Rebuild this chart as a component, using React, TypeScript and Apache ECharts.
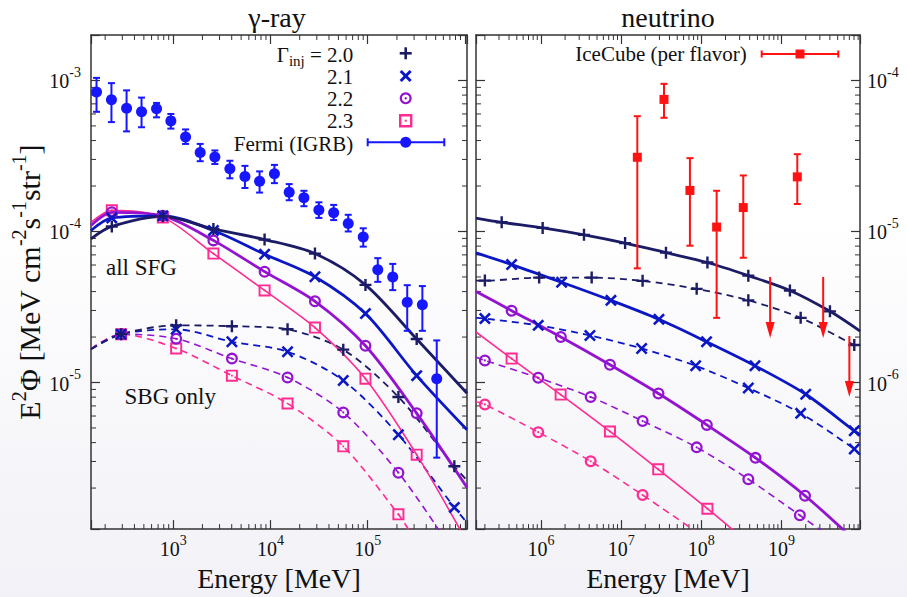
import React, { useEffect, useRef } from 'react';
import * as echarts from 'echarts';

const FONT = '"Liberation Serif", "Times New Roman", Times, serif';
const INK = '#111111';
const NAVY = '#1c1c66';
const BLUE = '#0b17c4';
const PURPLE = '#9313d0';
const PINK = '#ff2a92';
const FERMI = '#1616ff';
const RED = '#ff1212';

// ---- axis ranges ----
const gammaXRange = [143, 1.05e6];
const gammaYRange = [1.07e-6, 2e-3];
const nuXRange = [1.55e5, 9.5e9];
const nuYRange = [1.07e-7, 2e-4];

// ---- tick labels (powers of ten shown) ----
const gammaXLabelExps = [3, 4, 5];
const gammaYLabelExps = [-5, -4, -3];
const nuXLabelExps = [6, 7, 8, 9];
const nuYLabelExps = [-6, -5, -4];

// ---- minor tick decades ----
const gammaXDecades = [2, 3, 4, 5, 6];
const gammaYDecades = [-6, -5, -4, -3];
const nuXDecades = [5, 6, 7, 8, 9];
const nuYDecades = [-7, -6, -5, -4];
const minorMultipliers = [2, 3, 4, 5, 6, 7, 8, 9];

// ---- Fermi IGRB ----
const fermiE = [163, 232, 332, 473, 675, 947, 1342, 1897, 2685, 3830, 5470, 7740, 11000, 15600, 22100, 31500, 44700, 63100, 90000, 127000, 181000, 255000, 365000, 513000];
const fermiY = [8.4e-4, 7.45e-4, 6.55e-4, 6.2e-4, 6.5e-4, 5.4e-4, 4.23e-4, 3.34e-4, 3.11e-4, 2.6e-4, 2.31e-4, 2.15e-4, 2.41e-4, 1.82e-4, 1.67e-4, 1.39e-4, 1.33e-4, 1.13e-4, 9.2e-5, 5.58e-5, 5.0e-5, 3.4e-5, 3.27e-5, 1.06e-5];
const fermiLo = [6.2e-4, 5.3e-4, 4.6e-4, 4.9e-4, 5.7e-4, 4.8e-4, 3.8e-4, 2.92e-4, 2.8e-4, 2.25e-4, 1.94e-4, 1.81e-4, 2.09e-4, 1.61e-4, 1.47e-4, 1.23e-4, 1.19e-4, 1.0e-4, 7.94e-5, 4.64e-5, 4.09e-5, 2.2e-5, 2.2e-5, 3.18e-6];
const fermiHi = [1.04e-3, 9.6e-4, 8.6e-4, 7.7e-4, 7.1e-4, 6.0e-4, 4.74e-4, 3.8e-4, 3.44e-4, 2.94e-4, 2.72e-4, 2.5e-4, 2.76e-4, 2.06e-4, 1.86e-4, 1.56e-4, 1.5e-4, 1.29e-4, 1.05e-4, 6.66e-5, 6.1e-5, 4.41e-5, 4.35e-5, 1.9e-5];

// ---- gamma-ray model curves [E (MeV), E^2 Phi] ----
const gammaSolid20 = [[143, 8.95e-5], [234, 1.08e-4], [783, 1.26e-4], [2593, 1.04e-4], [8710, 8.84e-5], [2.87e4, 7.14e-5], [9.49e4, 4.43e-5], [3.19e5, 1.94e-5], [1.05e6, 8.49e-6]];
const gammaSolid21 = [[143, 1.015e-4], [234, 1.23e-4], [783, 1.27e-4], [2593, 1.015e-4], [8710, 7.07e-5], [2.87e4, 5.02e-5], [9.49e4, 2.86e-5], [3.19e5, 1.11e-5], [1.05e6, 4.86e-6]];
const gammaSolid22 = [[143, 1.094e-4], [234, 1.34e-4], [783, 1.27e-4], [2593, 8.73e-5], [8710, 5.42e-5], [2.87e4, 3.45e-5], [9.49e4, 1.75e-5], [3.19e5, 6.25e-6], [1.05e6, 2.02e-6]];
const gammaSolid23 = [[143, 1.15e-4], [234, 1.38e-4], [783, 1.24e-4], [2593, 7.14e-5], [8710, 4.07e-5], [2.87e4, 2.31e-5], [9.49e4, 1.06e-5], [3.19e5, 3.33e-6], [9.4e5, 1.0e-6]];
const gammaDash20 = [[143, 1.66e-5], [292, 2.09e-5], [1074, 2.39e-5], [4018, 2.36e-5], [1.5e4, 2.25e-5], [5.61e4, 1.65e-5], [2.07e5, 8.02e-6], [7.78e5, 2.79e-6], [1.05e6, 2.25e-6]];
const gammaDash21 = [[143, 1.66e-5], [292, 2.09e-5], [1074, 2.25e-5], [4018, 1.86e-5], [1.5e4, 1.6e-5], [5.61e4, 1.03e-5], [2.07e5, 4.51e-6], [7.78e5, 1.49e-6], [1.05e6, 1.18e-6]];
const gammaDash22 = [[143, 1.67e-5], [292, 2.09e-5], [1074, 1.95e-5], [4018, 1.44e-5], [1.5e4, 1.08e-5], [5.61e4, 6.34e-6], [2.07e5, 2.53e-6], [5.7e5, 1.0e-6]];
const gammaDash23 = [[143, 1.67e-5], [292, 2.09e-5], [1074, 1.68e-5], [4018, 1.11e-5], [1.5e4, 7.26e-6], [5.61e4, 3.78e-6], [2.07e5, 1.34e-6], [2.8e5, 1.0e-6]];

// ---- neutrino model curves ----
const nuSolid20 = [[1.55e5, 1.228e-5], [3.24e5, 1.15e-5], [1.05e6, 1.056e-5], [3.44e6, 9.5e-6], [1.12e7, 8.38e-6], [3.62e7, 7.24e-6], [1.19e8, 6.23e-6], [3.85e8, 5.1e-6], [1.27e9, 4.07e-6], [4.01e9, 2.96e-6], [9.5e9, 2.19e-6]];
const nuSolid21 = [[1.55e5, 7.21e-6], [4.31e5, 6.04e-6], [1.81e6, 4.61e-6], [7.46e6, 3.5e-6], [2.96e7, 2.62e-6], [1.16e8, 1.86e-6], [4.66e8, 1.29e-6], [2.0e9, 8.36e-7], [8.06e9, 4.79e-7], [9.5e9, 4.51e-7]];
const nuSolid22 = [[1.55e5, 4.01e-6], [4.31e5, 2.99e-6], [1.77e6, 2.0e-6], [7.25e6, 1.31e-6], [2.92e7, 8.45e-7], [1.17e8, 5.24e-7], [4.73e8, 3.17e-7], [1.96e9, 1.78e-7], [6.6e9, 1.0e-7]];
const nuSolid23 = [[1.55e5, 2.16e-6], [4.31e5, 1.44e-6], [1.76e6, 8.32e-7], [7.25e6, 4.74e-7], [2.9e7, 2.66e-7], [1.19e8, 1.46e-7], [2.8e8, 1.0e-7]];
const nuDash20 = [[1.55e5, 4.73e-6], [2.0e5, 4.73e-6], [9.5e5, 4.95e-6], [4.29e6, 4.95e-6], [1.85e7, 4.71e-6], [8.74e7, 4.17e-6], [3.85e8, 3.5e-6], [1.73e9, 2.68e-6], [8.06e9, 1.77e-6], [9.5e9, 1.7e-6]];
const nuDash21 = [[1.55e5, 2.68e-6], [2.0e5, 2.65e-6], [9.25e5, 2.39e-6], [4.08e6, 2.05e-6], [1.8e7, 1.68e-6], [8.49e7, 1.29e-6], [3.85e8, 9.19e-7], [1.73e9, 6.25e-7], [8.06e9, 3.63e-7], [9.5e9, 3.33e-7]];
const nuDash22 = [[1.55e5, 1.47e-6], [2.0e5, 1.4e-6], [9.25e5, 1.075e-6], [4.17e6, 8.02e-7], [1.85e7, 5.56e-7], [8.74e7, 3.72e-7], [3.85e8, 2.29e-7], [1.69e9, 1.32e-7], [3.5e9, 1.0e-7]];
const nuDash23 = [[1.55e5, 7.45e-7], [2.0e5, 7.16e-7], [9.25e5, 4.69e-7], [4.17e6, 3.01e-7], [1.85e7, 1.8e-7], [9.3e7, 1.0e-7]];

// ---- IceCube (per flavor) ----
const iceE = [1.59e7, 3.42e7, 7.2e7, 1.55e8, 3.33e8, 1.57e9];
const iceY = [3.1e-5, 7.49e-5, 1.87e-5, 1.07e-5, 1.44e-5, 2.3e-5];
const iceLo = [5.7e-6, 5.66e-5, 8.05e-6, 2.68e-6, 6.7e-6, 1.52e-5];
const iceHi = [5.8e-5, 9.5e-5, 3.06e-5, 1.86e-5, 2.35e-5, 3.25e-5];
const iceUpperE = [7.2e8, 3.3e9, 7.0e9];
const iceUpperY = [5.0e-6, 5.0e-6, 2.03e-6];

// ---- texts ----
const gammaTitle = 'γ-ray';
const nuTitle = 'neutrino';
const xName = 'Energy [MeV]';
const gammaLegend = ['2.0', '2.1', '2.2', '2.3'];
const fermiLabel = 'Fermi (IGRB)';
const iceLabel = 'IceCube (per flavor)';

const PLUS = 'path://M4,0H6V4H10V6H6V10H4V6H0V4H4Z';
const CROSS = 'path://M1.5,0L5,3.5L8.5,0L10,1.5L6.5,5L10,8.5L8.5,10L5,6.5L1.5,10L0,8.5L3.5,5L0,1.5Z';
const RING = 'path://M10,5A5,5,0,1,1,0,5A5,5,0,1,1,10,5ZM8.1,5A3.1,3.1,0,1,0,1.9,5A3.1,3.1,0,1,0,8.1,5ZM5.9,5A0.9,0.9,0,1,1,4.1,5A0.9,0.9,0,1,1,5.9,5Z';
const SQUARE = 'path://M0,0H10V10H0ZM1.6,1.6V8.4H8.4V1.6ZM4.3,4.3H5.7V5.7H4.3Z';

const powLabel = (allowed: number[]) => (v: number) => {
  const e = Math.log10(v);
  const r = Math.round(e);
  if (Math.abs(e - r) > 1e-3 || allowed.indexOf(r) < 0) return '';
  return '{b|10}{s|' + r + '}';
};

const labelRich = {
  b: { fontFamily: FONT, fontSize: 20, color: INK, lineHeight: 22, verticalAlign: 'bottom' },
  s: { fontFamily: FONT, fontSize: 14, color: INK, lineHeight: 14, padding: [0, 0, 12, 0], verticalAlign: 'bottom' },
};

const AX = '#333333';

function xAxisOf(grid: number, range: number[], position: string, labels: number[] | null) {
  return {
    type: 'log', logBase: 10, gridIndex: grid, position, min: range[0], max: range[1],
    axisLine: { show: true, onZero: false, lineStyle: { color: AX, width: 1.5 } },
    axisTick: { show: true, inside: true, length: 9, lineStyle: { color: AX, width: 1.2 } },
    minorTick: { show: false }, splitLine: { show: false },
    axisLabel: { show: !!labels, margin: 8, formatter: powLabel(labels || []), rich: labelRich },
    name: labels ? xName : '', nameLocation: 'middle', nameGap: 29,
    nameTextStyle: { fontFamily: FONT, fontSize: 28, color: INK },
  };
}

function yAxisOf(grid: number, range: number[], position: string, labels: number[] | null, margin: number) {
  return {
    type: 'log', logBase: 10, gridIndex: grid, position, min: range[0], max: range[1],
    axisLine: { show: true, onZero: false, lineStyle: { color: AX, width: 1.5 } },
    axisTick: { show: true, inside: true, length: 9, lineStyle: { color: AX, width: 1.2 } },
    minorTick: { show: false }, splitLine: { show: false },
    axisLabel: { show: !!labels, margin, formatter: powLabel(labels || []), rich: labelRich },
  };
}

function minorValues(decades: number[], range: number[]) {
  const out: number[] = [];
  decades.forEach((d) => minorMultipliers.forEach((m) => {
    const v = m * Math.pow(10, d);
    if (v > range[0] && v < range[1]) out.push(v);
  }));
  return out;
}

function tickSeries(xi: number, yi: number, xDec: number[], yDec: number[], xr: number[], yr: number[]) {
  const data: number[][] = [];
  minorValues(xDec, xr).forEach((v) => data.push([v, yr[0], 0]));
  minorValues(yDec, yr).forEach((v) => data.push([xr[0], v, 1]));
  return {
    type: 'custom', xAxisIndex: xi, yAxisIndex: yi, silent: true, z: 1,
    encode: { x: 0, y: 1 }, data,
    renderItem: (params: any, api: any) => {
      const cs = params.coordSys;
      const st = { stroke: AX, lineWidth: 1 };
      const p = api.coord([api.value(0), api.value(1)]);
      if (api.value(2) === 0) {
        const b = cs.y + cs.height;
        return {
          type: 'group', children: [
            { type: 'line', shape: { x1: p[0], y1: b, x2: p[0], y2: b - 5 }, style: st },
            { type: 'line', shape: { x1: p[0], y1: cs.y, x2: p[0], y2: cs.y + 5 }, style: st },
          ],
        };
      }
      const r = cs.x + cs.width;
      return {
        type: 'group', children: [
          { type: 'line', shape: { x1: cs.x, y1: p[1], x2: cs.x + 5, y2: p[1] }, style: st },
          { type: 'line', shape: { x1: r, y1: p[1], x2: r - 5, y2: p[1] }, style: st },
        ],
      };
    },
  };
}

function curve(data: number[][], color: string, symbol: string, dashed: boolean, width: number, xi: number, yi: number, size = 12) {
  return {
    type: 'line', xAxisIndex: xi, yAxisIndex: yi, smooth: 0.3, showSymbol: true, showAllSymbol: true,
    symbol, symbolSize: size, symbolKeepAspect: true, silent: true, z: 3, clip: true,
    data: data.map((p, i) => (i === 0 || i === data.length - 1 ? { value: p, symbol: 'none' } : { value: p })),
    lineStyle: { color, width, type: dashed ? [7, 5] : 'solid' },
    itemStyle: { color, borderWidth: 0 },
  };
}

function errorSeries(E: number[], Y: number[], lo: number[], hi: number[], color: string, cap: number, xi: number, yi: number) {
  return {
    type: 'custom', xAxisIndex: xi, yAxisIndex: yi, silent: true, z: 4, clip: true,
    encode: { x: 0, y: 1 },
    data: E.map((e, i) => [e, Y[i], lo[i], hi[i]]),
    renderItem: (_p: any, api: any) => {
      const a = api.coord([api.value(0), api.value(3)]);
      const b = api.coord([api.value(0), api.value(2)]);
      const st = { stroke: color, lineWidth: 2 };
      return {
        type: 'group', children: [
          { type: 'line', shape: { x1: a[0], y1: a[1], x2: b[0], y2: b[1] }, style: st },
          { type: 'line', shape: { x1: a[0] - cap, y1: a[1], x2: a[0] + cap, y2: a[1] }, style: st },
          { type: 'line', shape: { x1: b[0] - cap, y1: b[1], x2: b[0] + cap, y2: b[1] }, style: st },
        ],
      };
    },
  };
}

function legendText(x: number, y: number, text: string) {
  return { type: 'text', x, y, z: 10, style: { text, fontFamily: FONT, fontSize: 21, lineHeight: 20, fill: INK, align: 'right', verticalAlign: 'middle' } };
}

export default function App() {
  const ref = useRef<HTMLDivElement>(null);
  useEffect(() => {
    if (!ref.current) return;
    const chart = echarts.init(ref.current, undefined, { renderer: 'svg' });
    const mx = 405.7;
    const graphic: any[] = [
      { type: 'text', x: 277, y: 17, style: { text: gammaTitle, fontFamily: FONT, fontSize: 28, fill: INK, align: 'center', verticalAlign: 'middle' } },
      { type: 'text', x: 668, y: 17, style: { text: nuTitle, fontFamily: FONT, fontSize: 28, fill: INK, align: 'center', verticalAlign: 'middle' } },
      { type: 'text', x: 106, y: 267, style: { text: 'all SFG', fontFamily: FONT, fontSize: 23, fill: INK, align: 'left', verticalAlign: 'middle' } },
      { type: 'text', x: 124.5, y: 396, style: { text: 'SBG only', fontFamily: FONT, fontSize: 23, fill: INK, align: 'left', verticalAlign: 'middle' } },
      {
        type: 'text', x: 353.3, y: 53.5, z: 10,
        style: {
          text: '{a|Γ}{sub|inj}{a| = ' + gammaLegend[0] + '}', fill: INK, align: 'right', verticalAlign: 'middle',
          rich: {
            a: { fontFamily: FONT, fontSize: 21, lineHeight: 19, verticalAlign: 'top' },
            sub: { fontFamily: FONT, fontSize: 15, lineHeight: 10, padding: [9, 0, 0, 0], verticalAlign: 'top' },
          },
        },
      },
      legendText(353.3, 77, gammaLegend[1]),
      legendText(353.3, 98.8, gammaLegend[2]),
      legendText(353.3, 121, gammaLegend[3]),
      legendText(353.3, 144.3, fermiLabel),
      // legend markers
      { type: 'rect', x: mx, y: 53.3, shape: { x: -6, y: -1.3, width: 12, height: 2.6 }, style: { fill: NAVY } },
      { type: 'rect', x: mx, y: 53.3, shape: { x: -1.3, y: -6, width: 2.6, height: 12 }, style: { fill: NAVY } },
      { type: 'line', x: mx, y: 76, shape: { x1: -5, y1: -5, x2: 5, y2: 5 }, style: { stroke: BLUE, lineWidth: 3 } },
      { type: 'line', x: mx, y: 76, shape: { x1: -5, y1: 5, x2: 5, y2: -5 }, style: { stroke: BLUE, lineWidth: 3 } },
      { type: 'ring', x: mx, y: 98.3, shape: { cx: 0, cy: 0, r: 6, r0: 3.8 }, style: { fill: PURPLE } },
      { type: 'circle', x: mx, y: 98.3, shape: { cx: 0, cy: 0, r: 1.2 }, style: { fill: PURPLE } },
      { type: 'rect', x: mx, y: 120.7, shape: { x: -5.5, y: -5.5, width: 11, height: 11 }, style: { fill: 'none', stroke: PINK, lineWidth: 2.4 } },
      { type: 'rect', x: mx, y: 120.7, shape: { x: -1, y: -1, width: 2, height: 2 }, style: { fill: PINK } },
      { type: 'line', shape: { x1: 367.7, y1: 142.3, x2: 444.3, y2: 142.3 }, style: { stroke: FERMI, lineWidth: 2 } },
      { type: 'line', shape: { x1: 367.7, y1: 138.3, x2: 367.7, y2: 146.3 }, style: { stroke: FERMI, lineWidth: 2 } },
      { type: 'line', shape: { x1: 444.3, y1: 138.3, x2: 444.3, y2: 146.3 }, style: { stroke: FERMI, lineWidth: 2 } },
      { type: 'circle', shape: { cx: mx, cy: 142.3, r: 5.5 }, style: { fill: FERMI } },
      legendText(746.7, 53.5, iceLabel),
      { type: 'line', shape: { x1: 761.7, y1: 54, x2: 838.3, y2: 54 }, style: { stroke: RED, lineWidth: 2 } },
      { type: 'line', shape: { x1: 761.7, y1: 50.5, x2: 761.7, y2: 57.5 }, style: { stroke: RED, lineWidth: 2 } },
      { type: 'line', shape: { x1: 838.3, y1: 50.5, x2: 838.3, y2: 57.5 }, style: { stroke: RED, lineWidth: 2 } },
      { type: 'rect', shape: { x: 795.5, y: 49.5, width: 9, height: 9 }, style: { fill: RED } },
    ];

    const yName = '{a|E}{s|2}{a|Φ [MeV cm}{s|-2}{a|s}{s|-1}{a|str}{s|-1}{a|]}';
    const yAxis0: any = yAxisOf(0, gammaYRange, 'left', gammaYLabelExps, 10);
    yAxis0.name = yName;
    yAxis0.nameLocation = 'middle';
    yAxis0.nameRotate = 90;
    yAxis0.nameGap = 47;
    yAxis0.nameTextStyle = {
      rich: {
        a: { fontFamily: FONT, fontSize: 30, color: INK, lineHeight: 30, verticalAlign: 'bottom' },
        s: { fontFamily: FONT, fontSize: 20, color: INK, lineHeight: 20, padding: [0, 0, 15, 0], verticalAlign: 'bottom' },
      },
    };

    const option: any = {
      animation: false,
      backgroundColor: 'transparent',
      textStyle: { fontFamily: FONT },
      grid: [
        { left: 91, top: 35, width: 376, height: 501 },
        { left: 476, top: 35, width: 384, height: 501 },
      ],
      xAxis: [
        xAxisOf(0, gammaXRange, 'bottom', gammaXLabelExps),
        xAxisOf(0, gammaXRange, 'top', null),
        xAxisOf(1, nuXRange, 'bottom', nuXLabelExps),
        xAxisOf(1, nuXRange, 'top', null),
      ],
      yAxis: [
        yAxis0,
        yAxisOf(0, gammaYRange, 'right', null, 8),
        yAxisOf(1, nuYRange, 'left', null, 8),
        yAxisOf(1, nuYRange, 'right', nuYLabelExps, 7),
      ],
      graphic,
      series: [
        tickSeries(0, 0, gammaXDecades, gammaYDecades, gammaXRange, gammaYRange),
        tickSeries(2, 3, nuXDecades, nuYDecades, nuXRange, nuYRange),
        curve(gammaDash23, PINK, SQUARE, true, 1.6, 0, 0),
        curve(gammaDash22, PURPLE, RING, true, 1.6, 0, 0),
        curve(gammaDash21, BLUE, CROSS, true, 1.8, 0, 0),
        curve(gammaDash20, NAVY, PLUS, true, 1.8, 0, 0),
        curve(gammaSolid23, PINK, SQUARE, false, 1.6, 0, 0),
        curve(gammaSolid22, PURPLE, RING, false, 2.8, 0, 0),
        curve(gammaSolid21, BLUE, CROSS, false, 2.8, 0, 0),
        curve(gammaSolid20, NAVY, PLUS, false, 2.8, 0, 0),
        errorSeries(fermiE, fermiY, fermiLo, fermiHi, FERMI, 3.5, 0, 0),
        {
          type: 'scatter', xAxisIndex: 0, yAxisIndex: 0, symbol: 'circle', symbolSize: 11, z: 5, silent: true,
          itemStyle: { color: FERMI, opacity: 1 }, data: fermiE.map((e, i) => [e, fermiY[i]]),
        },
        curve(nuDash23, PINK, RING, true, 1.6, 2, 3),
        curve(nuDash22, PURPLE, RING, true, 1.6, 2, 3),
        curve(nuDash21, BLUE, CROSS, true, 1.8, 2, 3),
        curve(nuDash20, NAVY, PLUS, true, 1.8, 2, 3),
        curve(nuSolid23, PINK, SQUARE, false, 1.6, 2, 3),
        curve(nuSolid22, PURPLE, RING, false, 2.8, 2, 3),
        curve(nuSolid21, BLUE, CROSS, false, 2.8, 2, 3),
        curve(nuSolid20, NAVY, PLUS, false, 2.8, 2, 3),
        errorSeries(iceE, iceY, iceLo, iceHi, RED, 3.5, 2, 3),
        {
          type: 'scatter', xAxisIndex: 2, yAxisIndex: 3, symbol: 'rect', symbolSize: 9, z: 5, silent: true,
          itemStyle: { color: RED, opacity: 1 }, data: iceE.map((e, i) => [e, iceY[i]]),
        },
        {
          type: 'custom', xAxisIndex: 2, yAxisIndex: 3, silent: true, z: 4,
          encode: { x: 0, y: 1 },
          data: iceUpperE.map((e, i) => [e, iceUpperY[i]]),
          renderItem: (_p: any, api: any) => {
            const p = api.coord([api.value(0), api.value(1)]);
            return {
              type: 'group', children: [
                { type: 'line', shape: { x1: p[0], y1: p[1], x2: p[0], y2: p[1] + 50 }, style: { stroke: RED, lineWidth: 2 } },
                { type: 'polygon', shape: { points: [[p[0] - 4.5, p[1] + 45], [p[0] + 4.5, p[1] + 45], [p[0], p[1] + 61]] }, style: { fill: RED } },
              ],
            };
          },
        },
      ],
    };
    chart.setOption(option);
    return () => chart.dispose();
  }, []);

  return (
    <div
      ref={ref}
      style={{
        position: 'absolute', left: 0, top: 0, width: 907, height: 597,
        background: 'linear-gradient(to bottom, #ffffff 0%, #ffffff 36%, #f1f1f7 100%)',
      }}
    />
  );
}
